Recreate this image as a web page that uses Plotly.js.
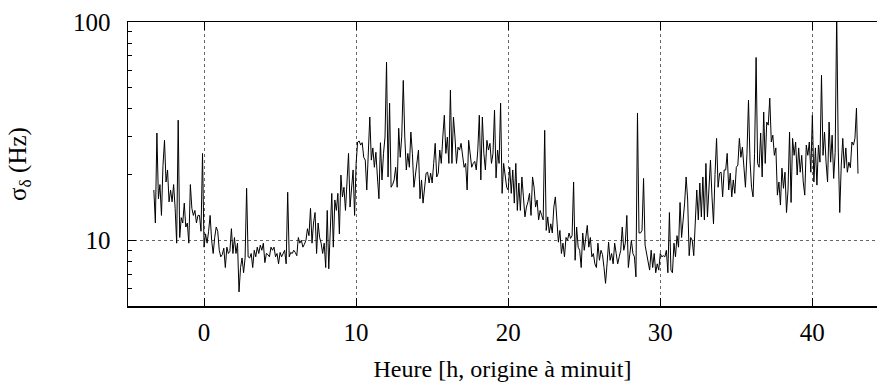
<!DOCTYPE html>
<html>
<head>
<meta charset="utf-8">
<script src="https://cdn.plot.ly/plotly-3.0.1.min.js"></script>
<style>html,body{margin:0;padding:0;background:#fff;overflow:hidden;}</style>
</head>
<body>
<div id="chart" style="width:877px;height:382px;"></div>
<script>
// Time axis: samples every 0.1 h, first sample at -3.3 h (hours, origin at midnight)
const startHour = -3.3;
const stepHour = 0.1;

// sigma_delta (Hz), one row per hour
const sigmaHz = [
  17, 12, 31, 15.5, 18, 13, 22, 28.7, 18.5, 21,            // -3.3 .. -2.4
  15, 17, 15, 18, 14, 9.7, 35.5, 10.3, 12.7, 12,           // -2.3 .. -1.4
  14.8, 11.5, 12, 9.7, 18, 14, 13, 13.7, 12, 13,           // -1.3 .. -0.4
  13, 11, 25,                                              // -0.3 .. -0.1
  9.3, 10.7, 9.7, 11, 13, 10, 8.7, 10.3, 11.5, 11,         // 0
  9, 8.4, 8.6, 9.2, 7.5, 9.3, 8.7, 8.9, 11.3, 8.7,         // 1
  10.3, 8.7, 9.7, 5.8, 7.5, 8.3, 7.1, 8.3, 17.3, 8.4,      // 2
  8.3, 8.7, 7.5, 9, 8.4, 9.3, 8.7, 9.5, 9, 9.7,            // 3
  7.9, 8.7, 8.6, 8.4, 9.3, 9, 9.3, 8.4, 8.7, 7.8,          // 4
  8.8, 8.4, 8.7, 9, 7.8, 16.6, 8.4, 8.8, 8.7, 9,           // 5
  8.8, 8.5, 10.3, 9.7, 10, 9.3, 9.6, 10, 11.3, 10.5,       // 6
  14, 9.7, 12, 13.4, 8.7, 12, 10.3, 9.7, 8.7, 9.7,         // 7
  7.5, 13.7, 7.4, 12.4, 16.4, 9.3, 15.3, 13.7, 16.4, 10.7, // 8
  19.9, 15.8, 17.5, 13.7, 18.3, 25, 14.2, 17, 21, 13,      // 9
  22.5, 28.2, 28.5, 27.3, 28, 24, 23.3, 17, 23.3, 36.7,    // 10
  23.3, 26.5, 21.6, 25.3, 19.5, 15.5, 28, 18.9, 25, 29.7,  // 11
  65.5, 19.5, 42.5, 17.5, 18, 18.9, 21.6, 17.5, 32.6, 24,  // 12
  30, 54, 29.7, 21, 25, 21.6, 31.3, 25, 17.5, 20,          // 13
  24, 25.9, 15.5, 18.9, 14.8, 17, 20.3, 20.5, 18.3, 20.3,  // 14
  18.3, 22.5, 27.8, 19.5, 20.3, 25.9, 22.5, 29.7, 37.4, 25,// 15
  29.7, 22.5, 48.7, 22.5, 36.7, 29.7, 22.5, 26.7, 25.9, 27.8, // 16
  25, 21.6, 22.5, 17, 28.7, 24, 21.6, 22.5, 23, 21,        // 17
  25.9, 37.4, 18.9, 36.7, 25, 21, 28.7, 25.9, 27.8, 22.5,  // 18
  25, 39.5, 19.3, 25.9, 22.5, 42.5, 16.4, 22.5, 19.5, 17.5,// 19
  17, 21.6, 16.4, 21, 14.8, 22.5, 13.7, 18.3, 13.7, 19.5,  // 20
  15.8, 12.8, 14.2, 15, 16.4, 13, 19.5, 17.5, 14.2, 15.3,  // 21
  12.4, 13.7, 13, 12.4, 31.9, 11.1, 12.8, 10.8, 11.9, 10.8,// 22
  14.2, 15.8, 12.4, 9.8, 11.1, 8.7, 9.7, 8.4, 10.3, 10,    // 23
  10.8, 10.2, 10.5, 18.5, 8.1, 11.5, 9.3, 9, 7.5, 10.8,    // 24
  9, 10.3, 11.7, 9.3, 10.3, 8.4, 8.7, 7.8, 7.5, 9.7,       // 25
  8.1, 9, 8.6, 7.5, 6.35, 7.8, 9.8, 8.1, 8.7, 7.8,         // 26
  9.7, 8.7, 7.8, 8.4, 9, 11.5, 9, 9.7, 13, 7.5,            // 27
  8.8, 10, 8.7, 8.4, 6.8, 38.3, 10.8, 10.8, 11.1, 19.2,    // 28
  9.5, 8.7, 8.1, 7.3, 9, 7.5, 8.7, 7.1, 7.8, 7.3,          // 29
  8.7, 8.4, 8.5, 8.4, 9, 7.1, 13.4, 7.3, 7.1, 9.7,         // 30
  8.4, 10.5, 9.3, 14.9, 10.3, 12, 14.8, 19.5, 15.3, 8.5,   // 31
  10.3, 10, 8.5, 12, 17, 12.4, 18.3, 12.8, 19.5, 12.4,     // 32
  22.5, 12.8, 17.5, 23.3, 15.8, 11.9, 20, 29.3, 17.5, 20.3,// 33
  20.5, 15.8, 21, 21, 25, 17, 20.3, 15.8, 18.9, 16.4,      // 34
  21.6, 22.1, 29.3, 24, 26.7, 21, 17.5, 25, 43.8, 23.3,    // 35
  17.5, 15.8, 25, 68.8, 22.5, 21.6, 31, 19.5, 38.7, 22.5,  // 36
  34.8, 33.7, 44.8, 28.2, 30.3, 24.5, 26.5, 16.1, 18.5, 14.5, // 37
  21.4, 17.3, 20.5, 13.4, 17, 31.3, 14.9, 29.3, 24.5, 28.2,// 38
  19.9, 26.5, 20.5, 24.5, 18.5, 16.1, 27.3, 24.5, 28.2, 20.5, // 39
  37.4, 18.5, 26.5, 17.9, 27.3, 22.8, 57, 24.5, 31.3, 22.8,// 40
  18.5, 34.8, 22.8, 30.3, 19.2, 25.3, 110, 26.5, 13.4, 22.1, // 41
  29.3, 21.4, 26.5, 20.5, 22.8, 21.5, 28.2, 27.3, 29.3, 40.3, // 42
  20.2                                                     // 43
];

const xTickVals = [0, 10, 20, 30, 40];
const yTickVals = [10, 100];
const yTickText = ["10", "100"];
const yMinorVals = [6, 7, 8, 9, 20, 30, 40, 50, 60, 70, 80, 90];
const xTitle = "Heure [h, origine à minuit]";
const yTitle = "σ<sub>δ</sub> (Hz)";

const hours = sigmaHz.map((_, i) => Math.round((startHour + i * stepHour) * 10) / 10);

const FONT = "Liberation Serif";
const FS = 25;

const trace = {
  x: hours,
  y: sigmaHz,
  type: "scatter",
  mode: "lines",
  line: { color: "#000000", width: 1 },
  hoverinfo: "skip"
};

const layout = {
  width: 877,
  height: 382,
  margin: { l: 128, r: 0, t: 22, b: 76, pad: 0 },
  paper_bgcolor: "#ffffff",
  plot_bgcolor: "#ffffff",
  showlegend: false,
  font: { family: FONT, size: FS, color: "#000000" },
  xaxis: {
    range: [-5, 44.25],
    tickmode: "array",
    tickvals: xTickVals,
    ticks: "inside",
    ticklen: 8,
    tickwidth: 1,
    tickcolor: "#000000",
    ticklabelstandoff: 3,
    showline: true,
    linecolor: "#000000",
    linewidth: 1.5,
    mirror: "ticks",
    showgrid: true,
    gridcolor: "#666666",
    gridwidth: 1,
    griddash: "dot",
    zeroline: false,
    tickfont: { family: FONT, size: FS, color: "#000000" },
    title: { text: xTitle, font: { family: FONT, size: 24, color: "#000000" }, standoff: 17 }
  },
  yaxis: {
    type: "log",
    range: [Math.log10(5), 2],
    tickmode: "array",
    tickvals: yTickVals,
    ticktext: yTickText,
    ticks: "inside",
    ticklen: 8,
    tickwidth: 1,
    tickcolor: "#000000",
    ticklabelstandoff: 11,
    minor: { tickmode: "array", tickvals: yMinorVals, ticks: "inside", ticklen: 4, tickcolor: "#000000", showgrid: false },
    showline: true,
    linecolor: "#000000",
    linewidth: 1.5,
    mirror: false,
    showgrid: true,
    gridcolor: "#666666",
    gridwidth: 1,
    griddash: "dot",
    zeroline: false,
    tickfont: { family: FONT, size: FS, color: "#000000" },
    title: { text: yTitle, font: { family: FONT, size: FS, color: "#000000" }, standoff: 39 }
  }
};

Plotly.newPlot("chart", [trace], layout, { displayModeBar: false, staticPlot: true });
</script>
</body>
</html>
